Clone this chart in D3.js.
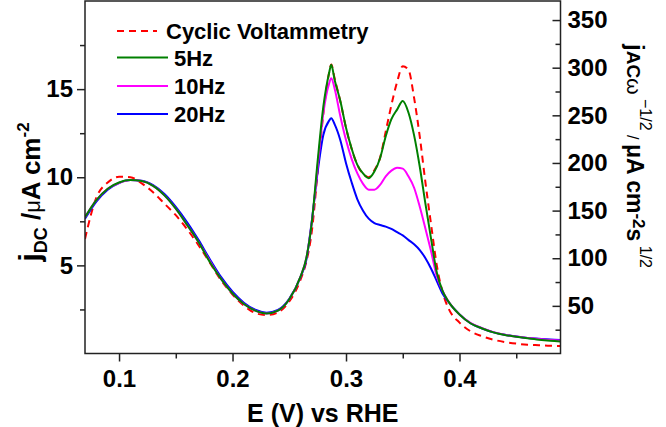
<!DOCTYPE html>
<html><head><meta charset="utf-8">
<script src="https://cdn.jsdelivr.net/npm/d3@7"></script>
<style>
body{margin:0;background:#fff}
svg{display:block}
text{font-family:"Liberation Sans",Arial,Helvetica,sans-serif;font-weight:bold;fill:#000}
</style>
</head><body>
<svg id="chart" width="666" height="427"></svg>
<script>
// ---- data ----
const potential = [0.07,0.08,0.09,0.10,0.11,0.12,0.13,0.14,0.15,0.16,0.17,0.18,0.19,0.20,0.21,0.22,0.23,0.24,0.25,0.26,
  0.265,0.27,0.275,0.28,0.285,0.287,0.29,0.295,0.30,0.305,0.31,0.315,0.32,0.325,0.33,0.335,0.34,0.345,0.35,0.355,0.36,0.365,0.37,0.375,0.38,0.385,
  0.39,0.40,0.41,0.42,0.43,0.44,0.45,0.46,0.47,0.48,0.489];
// j_DC (uA cm^-2), left axis
const cvCurrent = [6.5,8.85,9.7,10.03,10.0,9.65,9.15,8.5,7.85,7.05,6.15,5.15,4.15,3.35,2.72,2.3,2.18,2.33,2.95,4.2,
  5.2,7.0,10.3,13.6,15.9,16.4,15.6,14.3,12.8,11.6,10.7,10.2,10.0,10.4,11.1,12.6,14.1,15.4,16.3,16.1,14.5,12.3,9.7,7.3,5.0,3.5,
  2.6,1.75,1.25,0.98,0.78,0.65,0.56,0.5,0.47,0.44,0.43];
// j_AC w^-1/2 (uA cm^-2 s^1/2), right axis
const ac5Hz = [143,161,173,179.5,182,181,176,166,152,135,117,96,78,63,52,45,42,45,57,81,
  100,139,202,259,294,303,287,265,237,215,198,189,184,191,205,228,246,256,265,253,229,196,157,120,85,66,
  55,41,31.5,26.3,22.2,19.4,17.6,15.9,14.4,13.3,12.6];
const ac10Hz = [143,161,173,179,182,181,176,166,152,135,117,97,78,63,52,45,42,45,57,81,
  100,139,196,252,283,289,278,249,224,204,189,178,172,172,177,186,192,195,194,186,174,154,131,107,81,66,
  55,41,32,26.5,22.4,19.6,17.8,16.3,15.2,14.2,13.7];
const ac20Hz = [141.5,159.5,172,179,182,181.3,176.7,167.4,153.9,137.8,119.3,99,80.1,64.8,53.3,45.9,42.9,45.7,57.4,80.5,
  98,140.6,190.6,229.4,244.2,246.8,240.5,223.9,199.8,179.5,161.9,149.9,141.5,136.9,134.9,133.2,130.8,127.3,124,119.3,114.7,108.6,100,89,76,63,
  54.6,41.1,31.5,26.3,22.2,19.6,17.8,16.3,15.4,14.6,14.2];

const seriesNames = ["Cyclic Voltammetry","5Hz","10Hz","20Hz"];
const seriesColors = ["#ff0000","#008000","#ff00ff","#0000ff"];

const xTicks = [0.1,0.2,0.3,0.4];
const xMinorTicks = [0.15,0.25,0.35,0.45];
const yLeftTicks = [5,10,15];
const yLeftMinorTicks = [2.5,7.5,12.5,17.5];
const yRightTicks = [50,100,150,200,250,300,350];
const yRightMinorTicks = [25,75,125,175,225,275,325];

// ---- layout ----
const L = 85, R = 560.5, T = 1, B = 353.5;
const svg = d3.select("#chart");

const x = d3.scaleLinear().domain([0.07, 0.489]).range([L, R]);
const yL = d3.scaleLinear().domain([0, 20]).range([B, T]);
const yR = d3.scaleLinear().domain([0, 370]).range([B, T]);

const plot = svg.append("g");
plot.append("defs").append("clipPath").attr("id","clip")
  .append("rect").attr("x",L).attr("y",T).attr("width",R-L).attr("height",B-T);

const lineL = d3.line().x((d,i)=>x(potential[i])).y(d=>yL(d)).curve(d3.curveMonotoneX);
const lineR = d3.line().x((d,i)=>x(potential[i])).y(d=>yR(d)).curve(d3.curveMonotoneX);

const curves = plot.append("g").attr("clip-path","url(#clip)").attr("fill","none");
curves.append("path").attr("d", lineL(cvCurrent)).attr("stroke", seriesColors[0])
  .attr("stroke-width",2).attr("stroke-dasharray","7,5");
curves.append("path").attr("d", lineR(ac20Hz)).attr("stroke", seriesColors[3]).attr("stroke-width",2);
curves.append("path").attr("d", lineR(ac10Hz)).attr("stroke", seriesColors[2]).attr("stroke-width",2);
curves.append("path").attr("d", lineR(ac5Hz)).attr("stroke", seriesColors[1]).attr("stroke-width",2);

// frame
svg.append("rect").attr("x",L).attr("y",T).attr("width",R-L).attr("height",B-T)
  .attr("fill","none").attr("stroke","#222").attr("stroke-width",1.5);

function styleAxis(g){
  g.select(".domain").remove();
  g.selectAll("line").attr("stroke","#222").attr("stroke-width",1.5);
  g.selectAll("text").style("font-size","24px").style("font-weight","bold")
    .style("font-family",'"Liberation Sans",Arial,sans-serif');
}

// bottom
svg.append("g").attr("transform",`translate(0,${B})`)
  .call(d3.axisBottom(x).tickValues(xTicks).tickFormat(d3.format(".1f")).tickSize(8).tickPadding(8))
  .call(styleAxis);
svg.append("g").attr("transform",`translate(0,${B})`)
  .call(d3.axisBottom(x).tickValues(xMinorTicks).tickFormat("").tickSize(5))
  .call(styleAxis);

// left
svg.append("g").attr("transform",`translate(${L},0)`)
  .call(d3.axisLeft(yL).tickValues(yLeftTicks).tickFormat(d3.format("d")).tickSize(8).tickPadding(4))
  .call(styleAxis);
svg.append("g").attr("transform",`translate(${L},0)`)
  .call(d3.axisLeft(yL).tickValues(yLeftMinorTicks).tickFormat("").tickSize(5))
  .call(styleAxis);

// right (ticks inward)
svg.append("g").attr("transform",`translate(${R},0)`)
  .call(d3.axisRight(yR).tickValues(yRightTicks).tickFormat(d3.format("d")).tickSizeInner(-8).tickSizeOuter(0).tickPadding(7))
  .call(styleAxis);
svg.append("g").attr("transform",`translate(${R},0)`)
  .call(d3.axisRight(yR).tickValues(yRightMinorTicks).tickFormat("").tickSizeInner(-5).tickSizeOuter(0))
  .call(styleAxis);

// x title
svg.append("text").attr("x",(L+R)/2).attr("y",421.5).attr("text-anchor","middle")
  .style("font-size","25px").text("E (V) vs RHE");

// left title
const lt = svg.append("text").attr("transform","translate(40,192) rotate(-90)").attr("text-anchor","middle");
lt.append("tspan").style("font-size","30px").text("j");
lt.append("tspan").style("font-size","18px").attr("dy",7).text("DC");
lt.append("tspan").style("font-size","26px").attr("dy",-7).text(" /");
lt.append("tspan").style("font-size","22px").style("font-weight","normal").text("\u03bc");
lt.append("tspan").style("font-size","26px").text("A cm");
lt.append("tspan").style("font-size","17px").attr("dy",-11).text("-2");

// right title
const rt = svg.append("text").attr("transform","translate(627,156) rotate(90)").attr("text-anchor","middle");
rt.append("tspan").style("font-size","24px").text("j");
rt.append("tspan").style("font-size","19px").text("AC");
rt.append("tspan").style("font-size","21px").style("font-weight","normal").text("\u03c9");
rt.append("tspan").style("font-size","16px").style("font-weight","normal").attr("dy",-13).text(" \u22121/2");
rt.append("tspan").style("font-size","16px").style("font-weight","normal").attr("dy",13).text("  /  ");
rt.append("tspan").style("font-size","23px").text("\u03bcA cm");
rt.append("tspan").style("font-size","17px").attr("dy",-6).text("-2");
rt.append("tspan").style("font-size","23px").attr("dy",6).text("s");
rt.append("tspan").style("font-size","16px").style("font-weight","normal").attr("dy",-13).text(" 1/2");

// legend
const legendY = [31, 57.5, 86, 114];
const legendLineEnd = [157, 168, 168, 168];
const legendTextX = [166, 174, 174, 174];
const lg = svg.append("g");
seriesNames.forEach((name,i)=>{
  lg.append("line").attr("x1",117).attr("x2",legendLineEnd[i]).attr("y1",legendY[i]).attr("y2",legendY[i])
    .attr("stroke",seriesColors[i]).attr("stroke-width",2)
    .attr("stroke-dasharray", i===0 ? "7,5" : null);
  lg.append("text").attr("x",legendTextX[i]).attr("y",legendY[i]+8).style("font-size","22px").text(name);
});
</script>
</body></html>
